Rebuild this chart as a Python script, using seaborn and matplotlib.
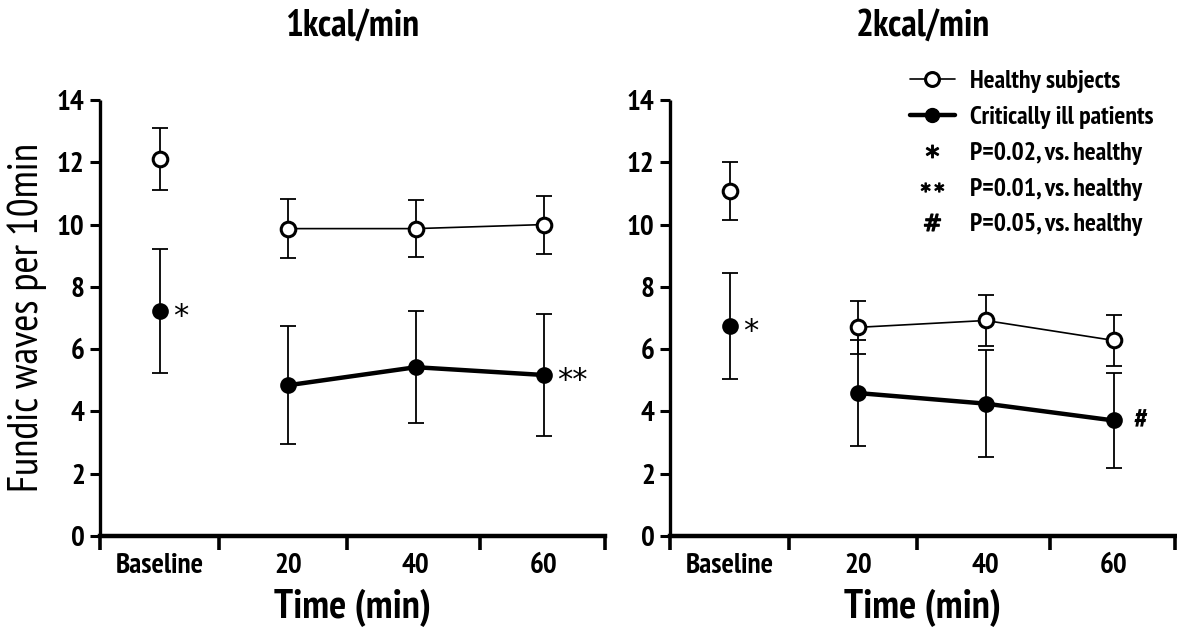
import numpy as np
import pandas as pd
import matplotlib
matplotlib.use("Agg")
import matplotlib.pyplot as plt
from matplotlib.lines import Line2D
import seaborn as sns

# Time points and their labels
timepoints = ["Baseline", "20", "40", "60"]
segments = ["baseline", "meal", "meal", "meal"]

# 1 kcal/min infusion: means and SD
healthy_1k = [12.1, 9.87, 9.87, 10.0]
healthy_1k_sd = [1.0, 0.95, 0.92, 0.93]
ill_1k = [7.22, 4.84, 5.42, 5.17]
ill_1k_sd = [2.0, 1.9, 1.8, 1.95]

# 2 kcal/min infusion: means and SD
healthy_2k = [11.08, 6.70, 6.92, 6.28]
healthy_2k_sd = [0.93, 0.86, 0.82, 0.82]
ill_2k = [6.75, 4.59, 4.25, 3.71]
ill_2k_sd = [1.7, 1.69, 1.71, 1.53]

# Significance symbols next to the patient points
sig_1k = {0: "*", 3: "**"}
sig_2k = {0: "*", 3: "#"}

panel_titles = ["1kcal/min", "2kcal/min"]
y_ticks = [0, 2, 4, 6, 8, 10, 12, 14]

sns.set_theme(style="ticks")
plt.rcParams["font.family"] = ["PT Sans Narrow", "IBM Plex Sans Condensed", "DejaVu Sans"]
for key in ["text.color", "axes.labelcolor", "xtick.color", "ytick.color", "axes.edgecolor"]:
    plt.rcParams[key] = "black"

fig = plt.figure(figsize=(11.77, 6.28), dpi=100)
ax_l = fig.add_axes([100 / 1177, 1 - 536 / 628, 505 / 1177, 436 / 628])
ax_r = fig.add_axes([670 / 1177, 1 - 536 / 628, 505 / 1177, 436 / 628])


def draw_panel(ax, healthy, healthy_sd, ill, ill_sd, sig, title, show_ylabel):
    pos = np.arange(len(timepoints))
    df_h = pd.DataFrame({"pos": pos, "val": healthy, "seg": segments})
    df_i = pd.DataFrame({"pos": pos, "val": ill, "seg": segments})

    ax.errorbar(pos, ill, yerr=ill_sd, fmt="none", ecolor="black",
                elinewidth=1.3, capsize=6, capthick=1.3, zorder=2)
    ax.errorbar(pos, healthy, yerr=healthy_sd, fmt="none", ecolor="black",
                elinewidth=1.3, capsize=6, capthick=1.3, zorder=2)

    sns.lineplot(data=df_i, x="pos", y="val", units="seg", estimator=None,
                 color="black", linewidth=3.2, marker="o", markersize=10.5,
                 markerfacecolor="black", markeredgecolor="black",
                 markeredgewidth=1.5, ax=ax, zorder=3)
    sns.lineplot(data=df_h, x="pos", y="val", units="seg", estimator=None,
                 color="black", linewidth=1.2, marker="o", markersize=10.5,
                 markerfacecolor="white", markeredgecolor="black",
                 markeredgewidth=2.2, ax=ax, zorder=4)

    for i, sym in sig.items():
        if sym == "#":
            ax.annotate(sym, (pos[i], ill[i]), xytext=(19, -1),
                        textcoords="offset points", ha="center", va="center",
                        fontsize=21, fontweight="bold")
        else:
            ax.annotate(sym, (pos[i], ill[i]), xytext=(15 + 6 * (len(sym) - 1), -4),
                        textcoords="offset points", ha="center", va="center",
                        fontsize=22, family="DejaVu Sans")

    ax.set_xlim(-0.47, 3.48)
    ax.set_ylim(0, 14)
    ax.set_yticks(y_ticks)
    ax.set_yticklabels([str(t) for t in y_ticks], fontsize=21, fontweight="bold")
    ax.set_xticks(pos)
    ax.set_xticklabels(timepoints, fontsize=21, fontweight="bold")
    ax.set_xticks([-0.47, 0.46, 1.46, 2.5, 3.48], minor=True)
    ax.tick_params(axis="x", which="major", length=0, pad=12)
    ax.tick_params(axis="x", which="minor", length=10, width=2.6, direction="out")
    ax.tick_params(axis="y", which="major", length=7, width=2.2, direction="out", pad=4)

    for side in ["top", "right"]:
        ax.spines[side].set_visible(False)
    ax.spines["left"].set_linewidth(2.4)
    ax.spines["bottom"].set_linewidth(3.2)
    ax.spines["left"].set_capstyle("butt")

    ax.set_xlabel("Time (min)", fontsize=29, fontweight="bold", labelpad=7)
    if show_ylabel:
        ax.set_ylabel("Fundic waves per 10min", fontsize=30, labelpad=7)
    else:
        ax.set_ylabel("")
    ax.set_title(title, fontsize=27, fontweight="bold", pad=46)
    ax.grid(False)


draw_panel(ax_l, healthy_1k, healthy_1k_sd, ill_1k, ill_1k_sd, sig_1k,
           panel_titles[0], True)
draw_panel(ax_r, healthy_2k, healthy_2k_sd, ill_2k, ill_2k_sd, sig_2k,
           panel_titles[1], False)

handles = [
    Line2D([], [], color="black", linewidth=1.2, marker="o", markersize=10,
           markerfacecolor="white", markeredgewidth=2.2),
    Line2D([], [], color="black", linewidth=3.2, marker="o", markersize=10,
           markerfacecolor="black"),
    Line2D([], [], linestyle="none", marker="$*$", markersize=9, color="black"),
    Line2D([], [], linestyle="none", marker="$**$", markersize=16, color="black"),
    Line2D([], [], linestyle="none", marker="$\\#$", markersize=12, color="black"),
]
labels = ["Healthy subjects", "Critically ill patients",
          "P=0.02, vs. healthy", "P=0.01, vs. healthy", "P=0.05, vs. healthy"]
fig.legend(handles, labels, loc="upper left",
           bbox_to_anchor=(910 / 1177, 1 - 70 / 628),
           frameon=False, prop={"size": 18.5, "weight": "bold"},
           handlelength=1.75, handletextpad=0.6, labelspacing=0.5,
           borderpad=0, borderaxespad=0)

fig.savefig("out.png", dpi=100)
